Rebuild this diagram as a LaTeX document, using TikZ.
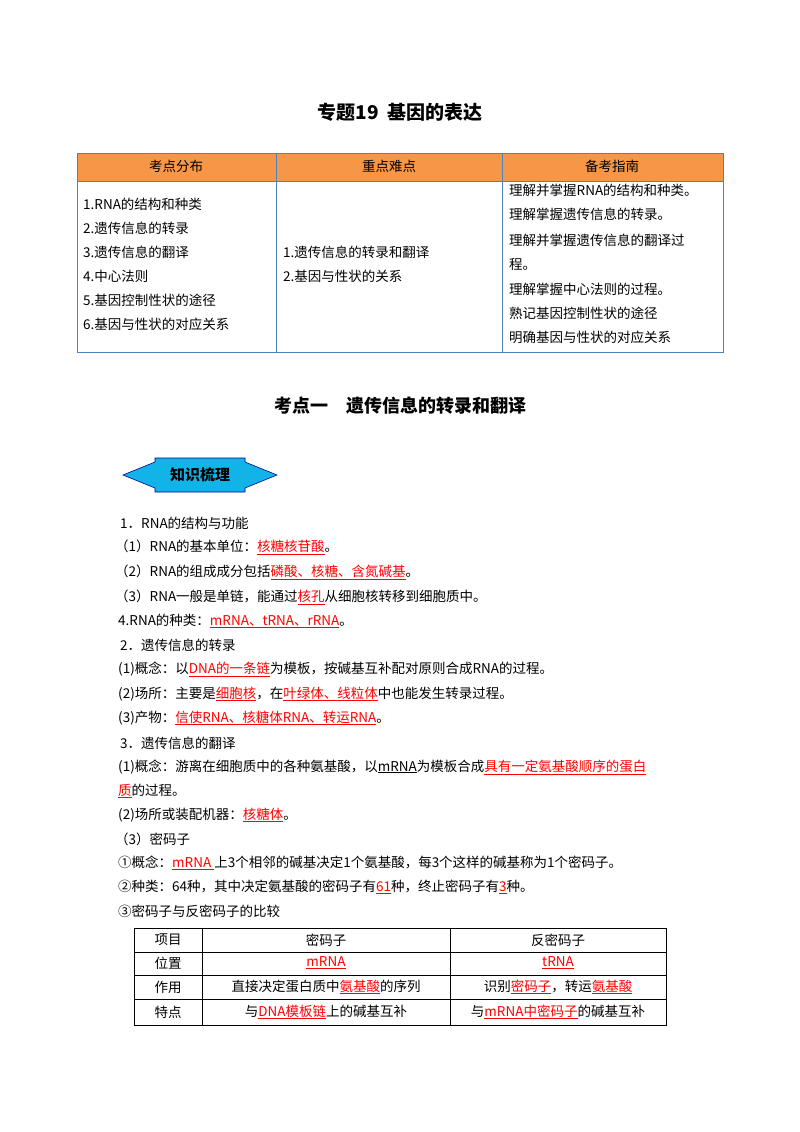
\documentclass[tikz,border=0pt]{standalone}
\usepackage{fontspec}
\setmainfont{Noto Sans CJK SC}
\usepackage{xcolor}
\definecolor{hdr}{HTML}{F79646}
\definecolor{tb}{HTML}{4F81BD}
\definecolor{cyanb}{HTML}{12B4E8}
\newcommand\rd[1]{\textcolor{red}{\underline{#1}}}
\begin{document}
\begin{tikzpicture}[x=1pt,y=-1pt,
 t/.style={anchor=west,inner sep=0pt,font=\fontsize{13.5}{14}\selectfont},
 c/.style={anchor=center,inner sep=0pt,font=\fontsize{13.5}{14}\selectfont}]
\useasboundingbox[fill=white] (0,0) rectangle (800,1132);
\node[c,font=\fontsize{19}{20}\selectfont\bfseries] (title) at (400,112) {专题19\ \ 基因的表达};
% table 1
\fill[hdr] (77,153) rectangle (723,181);
\draw[tb,line width=1pt] (77,153) rectangle (723,352) (77,181)--(723,181) (276,153)--(276,352) (502,153)--(502,352);
\node[c] (h1) at (176,166) {考点分布};
\node[c] (h2) at (389,166) {重点难点};
\node[c] (h3) at (612,166) {备考指南};
\node[t] (a1) at (83,204) {1.RNA的结构和种类};
\node[t] (a2) at (83,228) {2.遗传信息的转录};
\node[t] (a3) at (83,252) {3.遗传信息的翻译};
\node[t] (a4) at (83,276) {4.中心法则};
\node[t] (a5) at (83,300) {5.基因控制性状的途径};
\node[t] (a6) at (83,324) {6.基因与性状的对应关系};
\node[t] (b1) at (283,252) {1.遗传信息的转录和翻译};
\node[t] (b2) at (283,276) {2.基因与性状的关系};
\node[t] (r1) at (509,190) {理解并掌握RNA的结构和种类。};
\node[t] (r2) at (509,214) {理解掌握遗传信息的转录。};
\node[t] (r3) at (509,240) {理解并掌握遗传信息的翻译过};
\node[t] (r4) at (509,264) {程。};
\node[t] (r5) at (509,289) {理解掌握中心法则的过程。};
\node[t] (r6) at (509,313) {熟记基因控制性状的途径};
\node[t] (r7) at (509,337) {明确基因与性状的对应关系};
\node[c,font=\fontsize{18}{19}\selectfont\bfseries] (h) at (400,406) {考点一\quad 遗传信息的转录和翻译};
% badge
\filldraw[fill=cyanb,draw=blue!60!black,line width=0.6pt] (123,475)--(155,462)--(155,458)--(245,458)--(245,462)--(277,475)--(245,488)--(245,492)--(155,492)--(155,488)--cycle;
\node[c,font=\fontsize{15}{16}\selectfont\bfseries] (badge) at (200,475) {知识梳理};
% body
\node[t] (l1) at (120,523) {1．RNA的结构与功能};
\node[t] (l2) at (115,547) {（1）RNA的基本单位：\rd{核糖核苷酸}。};
\node[t] (l3) at (115,572) {（2）RNA的组成成分包括\rd{磷酸、核糖、含氮碱基}。};
\node[t] (l4) at (115,597) {（3）RNA一般是单链，能通过\rd{核孔}从细胞核转移到细胞质中。};
\node[t] (l5) at (118,621) {4.RNA的种类：\rd{mRNA、tRNA、rRNA}。};
\node[t] (l6) at (120,645) {2．遗传信息的转录};
\node[t] (l7) at (118,669) {(1)概念：以\rd{DNA的一条链}为模板，按碱基互补配对原则合成RNA的过程。};
\node[t] (l8) at (118,694) {(2)场所：主要是\rd{细胞核}，在\rd{叶绿体、线粒体}中也能发生转录过程。};
\node[t] (l9) at (118,718) {(3)产物：\rd{信使RNA、核糖体RNA、转运RNA}。};
\node[t] (l10) at (120,743) {3．遗传信息的翻译};
\node[t] (l11) at (118,767) {(1)概念：游离在细胞质中的各种氨基酸，以\underline{mRNA}为模板合成\rd{具有一定氨基酸顺序的蛋白}};
\node[t] (l12) at (118,791) {\rd{质}的过程。};
\node[t] (l13) at (118,815) {(2)场所或装配机器：\rd{核糖体}。};
\node[t] (l14) at (115,839) {（3）密码子};
\node[t] (l15) at (118,863) {①概念：\rd{mRNA\ }上3个相邻的碱基决定1个氨基酸，每3个这样的碱基称为1个密码子。};
\node[t] (l16) at (118,887) {②种类：64种，其中决定氨基酸的密码子有\rd{61}种，终止密码子有\rd{3}种。};
\node[t] (l17) at (118,911) {③密码子与反密码子的比较};
% table 2
\draw[line width=0.8pt] (134,928) rectangle (666,1025) (134,952)--(666,952) (134,975)--(666,975) (134,999)--(666,999) (202,928)--(202,1025) (450,928)--(450,1025);
\node[c] (p1) at (168,940) {项目};
\node[c] (p2) at (326,940) {密码子};
\node[c] (p3) at (558,940) {反密码子};
\node[c] (q1) at (168,963) {位置};
\node[c] (q2) at (326,963) {\rd{mRNA}};
\node[c] (q3) at (558,963) {\rd{tRNA}};
\node[c] (s1) at (168,987) {作用};
\node[c] (s2) at (326,987) {直接决定蛋白质中\rd{氨基酸}的序列};
\node[c] (s3) at (558,987) {识别\rd{密码子}，转运\rd{氨基酸}};
\node[c] (u1) at (168,1012) {特点};
\node[c] (u2) at (326,1012) {与\rd{DNA模板链}上的碱基互补};
\node[c] (u3) at (558,1012) {与\rd{mRNA中密码子}的碱基互补};
\end{tikzpicture}
\end{document}
